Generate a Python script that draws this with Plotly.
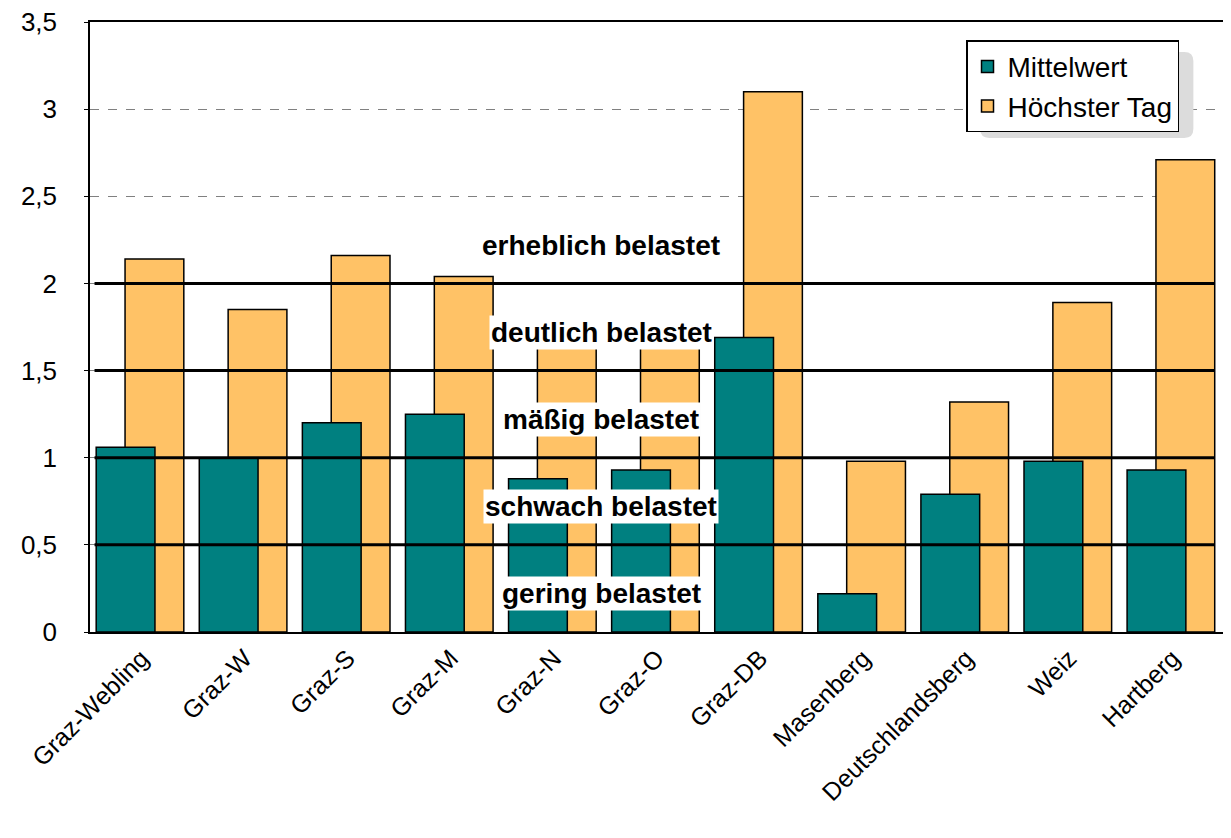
import plotly.graph_objects as go

stations = ["Graz-Webling", "Graz-W", "Graz-S", "Graz-M", "Graz-N", "Graz-O",
            "Graz-DB", "Masenberg", "Deutschlandsberg", "Weiz", "Hartberg"]
mittelwert = [1.06, 1.00, 1.20, 1.25, 0.88, 0.93, 1.69, 0.22, 0.79, 0.98, 0.93]
hoechster_tag = [2.14, 1.85, 2.16, 2.04, 1.70, 1.68, 3.10, 0.98, 1.32, 1.89, 2.71]

grenzen = [0.5, 1.0, 1.5, 2.0]
stufen = ["gering belastet", "schwach belastet", "mäßig belastet",
          "deutlich belastet", "erheblich belastet"]

FONT = "Arial, Liberation Sans, sans-serif"
TEAL = "#008080"
ORANGE = "#FFC266"

xs = list(range(len(stations)))

fig = go.Figure()
# orange zuerst, damit die Mittelwert-Balken davor liegen
fig.add_trace(go.Bar(x=xs, y=hoechster_tag, name="Höchster Tag",
                     width=0.57, offset=-0.16,
                     marker=dict(color=ORANGE, line=dict(color="black", width=1.5)),
                     legendrank=2))
fig.add_trace(go.Bar(x=xs, y=mittelwert, name="Mittelwert",
                     width=0.57, offset=-0.44,
                     marker=dict(color=TEAL, line=dict(color="black", width=1.5)),
                     legendrank=1))

# Grenzlinien
for g in grenzen:
    fig.add_shape(type="line", xref="paper", yref="y", x0=0.004, x1=0.992,
                  y0=g, y1=g, line=dict(color="black", width=3), layer="above")

# Beschriftung der Belastungsstufen
bounds = [0] + grenzen + [2.5]
for i, txt in enumerate(stufen):
    ymid = (bounds[i] + bounds[i + 1]) / 2 - 0.03
    fig.add_annotation(x=0.451, xref="paper", y=ymid, yref="y", text="<b>" + txt + "</b>",
                       showarrow=False, bgcolor="white" if i < 4 else "rgba(0,0,0,0)",
                       font=dict(family=FONT, size=28, color="black"), borderpad=1)

# Schatten der Legende
fig.add_shape(type="path", xref="paper", yref="paper",
              path="M 0.793,0.810 L 0.965,0.810 Q 0.973,0.810 0.973,0.825 L 0.973,0.936 "
                   "Q 0.973,0.951 0.965,0.951 L 0.793,0.951 Q 0.785,0.951 0.785,0.936 "
                   "L 0.785,0.825 Q 0.785,0.810 0.793,0.810 Z",
              fillcolor="#dcdcdc", line=dict(width=0), layer="above")

fig.update_layout(
    width=1223, height=830,
    margin=dict(l=82, r=7, t=14, b=206),
    plot_bgcolor="white", paper_bgcolor="white",
    barmode="overlay",
    separators=",.",
    font=dict(family=FONT, size=26, color="black"),
    showlegend=True,
    legend=dict(x=0.7725, y=0.97, xanchor="left", yanchor="top",
                bgcolor="white", bordercolor="black", borderwidth=1.5,
                font=dict(family=FONT, size=28), itemwidth=30,
                tracegroupgap=0),
)
fig.update_xaxes(tickmode="array", tickvals=xs, ticktext=stations, tickangle=-45,
                 range=[-0.5, len(stations) - 0.5], showgrid=False,
                 showline=True, linecolor="black", linewidth=1.5, mirror=True,
                 tickfont=dict(family=FONT, size=25), ticks="", automargin=False)
fig.update_yaxes(range=[0, 3.5], dtick=0.5, showgrid=True, gridcolor="#808080",
                 griddash="dash", gridwidth=1,
                 showline=True, linecolor="black", linewidth=1.5, mirror=True,
                 ticks="outside", ticklen=4, tickcolor="black", ticklabelstandoff=22,
                 ticklabeloverflow="allow",
                 tickfont=dict(family=FONT, size=26), zeroline=False, automargin=False)

fig.write_html("out.html")
